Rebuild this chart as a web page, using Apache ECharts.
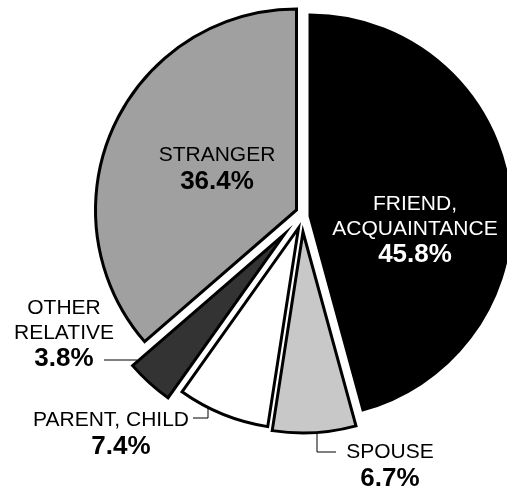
<!DOCTYPE html>
<html>
<head>
<meta charset="utf-8">
<script src="https://cdn.jsdelivr.net/npm/echarts@6/dist/echarts.min.js"></script>
<style>
  html, body { margin: 0; padding: 0; background: #fff; }
  #chart { width: 507px; height: 495px; }
</style>
</head>
<body>
<div id="chart"></div>
<script>
// data, clockwise from 12 o'clock
const names = ['FRIEND,\nACQUAINTANCE', 'SPOUSE', 'PARENT, CHILD', 'OTHER\nRELATIVE', 'STRANGER']
const shares = [45.8, 6.7, 7.4, 3.8, 36.4]
const fills = ['#000000', '#c8c8c8', '#ffffff', '#333333', '#a0a0a0']

// each slice is pulled out by its own amount, so each one gets its own center
const sliceCenters = [[310, 216], [303, 232], [298.5, 228], [284.5, 234], [296.5, 210]]
const labelAt = [[415, 230], [390, 466], [111, 434], [64, 334], [217, 169]]
const leaders = [
  null,
  [[317, 420], [317, 452], [336, 452]],
  [[208, 397], [208, 418], [193, 418]],
  [[137, 360], [120, 360], [104, 360]],
  null,
]
const RADIUS = 201
const FONT = '"Liberation Sans", Arial, Helvetica, sans-serif'

const chart = echarts.init(document.getElementById('chart'), null, { renderer: 'canvas' })

function sliceSeries(idx) {
  const textColor = idx === 0 ? '#ffffff' : '#000000'
  return {
    type: 'pie',
    center: sliceCenters[idx],
    radius: [0, RADIUS],
    startAngle: 90,
    clockwise: true,
    avoidLabelOverlap: false,
    silent: true,
    data: names.map((name, i) => {
      if (i !== idx) {
        return {
          name,
          value: shares[i],
          itemStyle: { color: 'rgba(0,0,0,0)', borderWidth: 0 },
          label: { show: false },
          labelLine: { show: false },
        }
      }
      return {
        name,
        value: shares[i],
        itemStyle: { color: fills[i], borderColor: '#000', borderWidth: 3, borderJoin: 'miter' },
        label: {
          show: true,
          position: leaders[i] ? 'outside' : 'inside',
          color: textColor,
          formatter: (p) => `{n|${p.name}}\n{${i === 2 ? 'vs' : 'v'}|${p.value.toFixed(1)}%}`,
          rich: {
            n: { fontFamily: FONT, fontSize: 21, lineHeight: 25, color: textColor, align: 'center' },
            v: { fontFamily: FONT, fontSize: 26, fontWeight: 'bold', lineHeight: 27, color: textColor, align: 'center' },
            vs: { fontFamily: FONT, fontSize: 26, fontWeight: 'bold', lineHeight: 27, color: textColor, align: 'center', padding: [0, 0, 0, 20] },
          },
        },
        labelLine: leaders[i] ? { show: true, length: 10, length2: 10, lineStyle: { color: '#000', width: 1 } } : { show: false },
      }
    }),
    labelLayout: () => {
      const out = { x: labelAt[idx][0], y: labelAt[idx][1], align: 'center', verticalAlign: 'middle' }
      if (leaders[idx]) out.labelLinePoints = leaders[idx]
      return out
    },
    emphasis: { disabled: true },
  }
}

chart.setOption({
  backgroundColor: '#ffffff',
  animation: false,
  series: names.map((_, i) => sliceSeries(i)),
})
</script>
</body>
</html>
